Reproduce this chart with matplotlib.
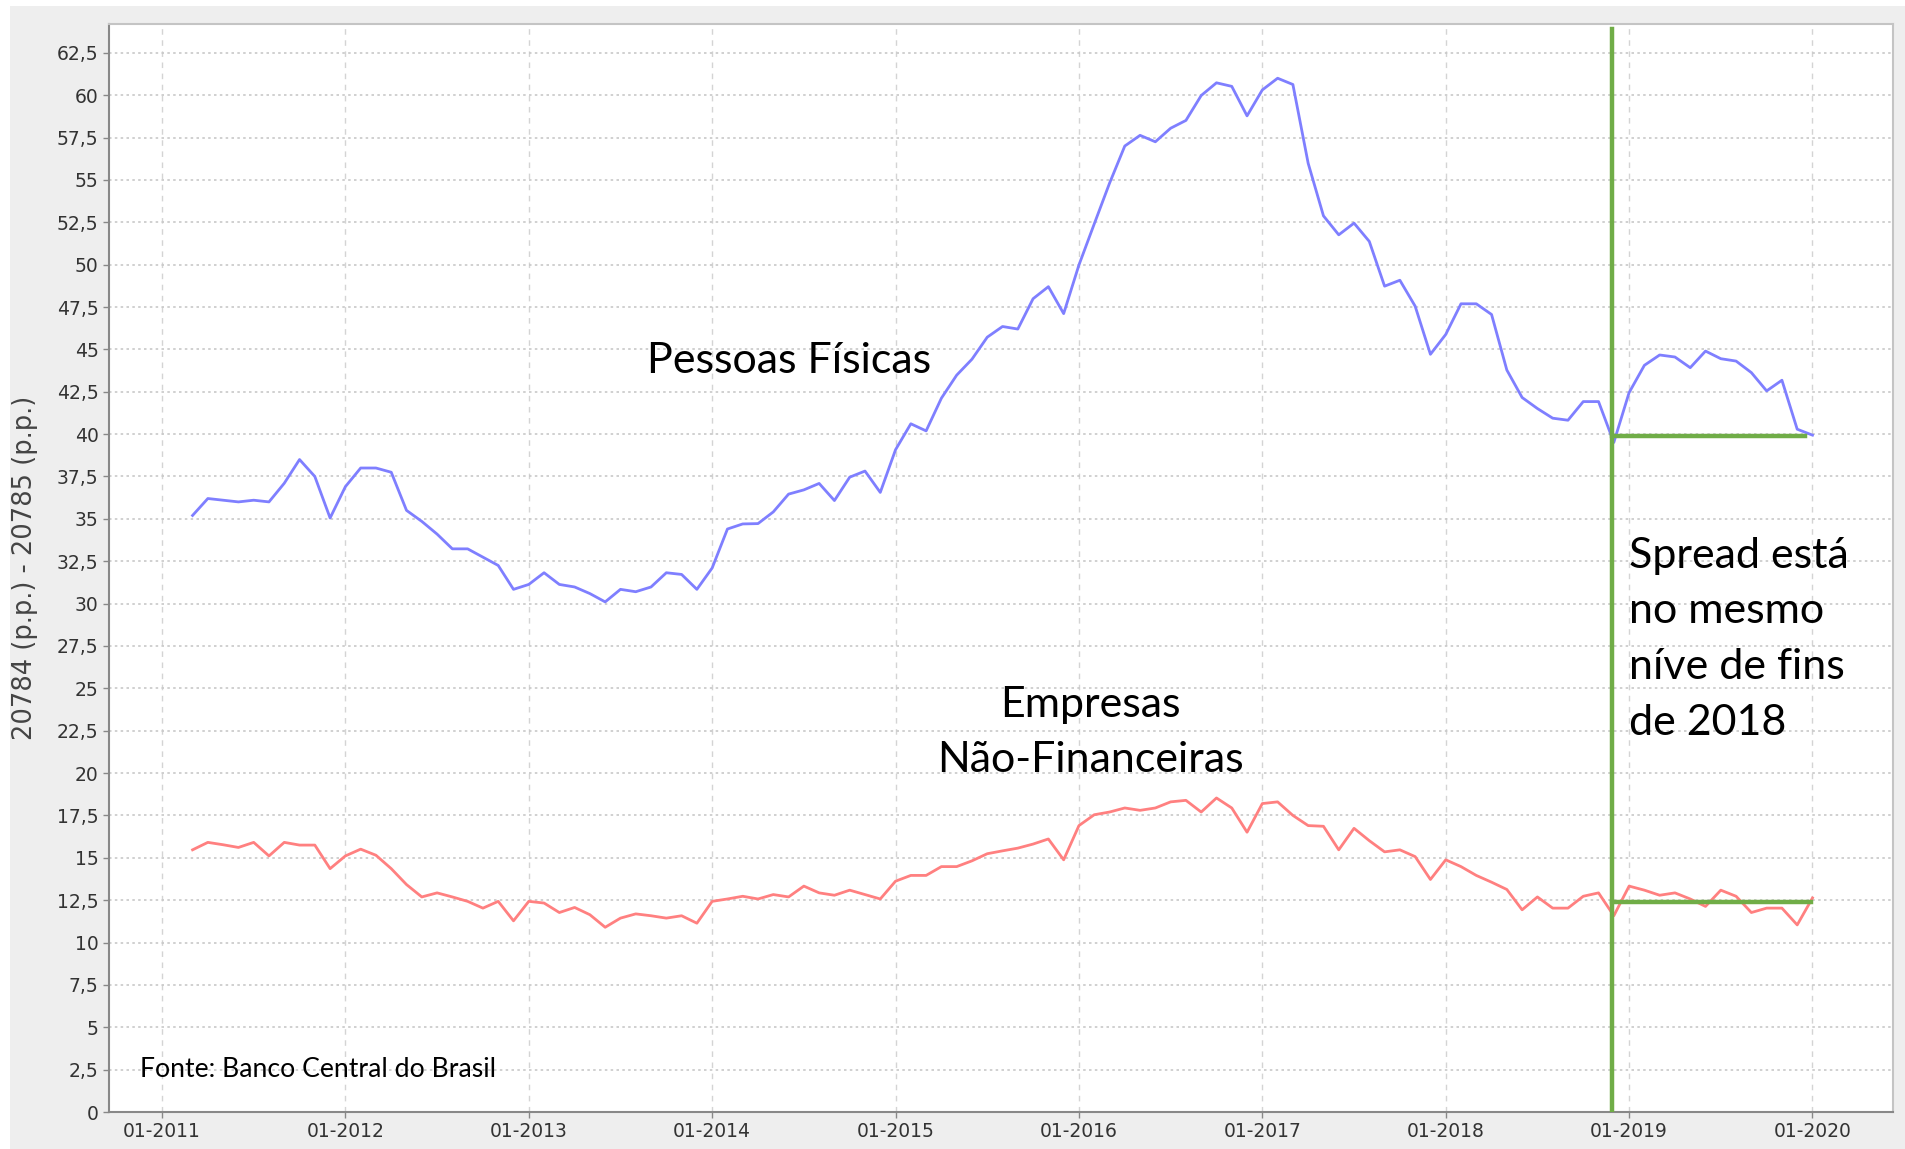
import numpy as np
import matplotlib.pyplot as plt
from matplotlib.patches import Rectangle
from matplotlib.ticker import FuncFormatter

# monthly spreads, Mar-2011 .. Jan-2020 (p.p.)
pessoas_fisicas = [
    35.2, 36.2, 36.1, 36.0, 36.1, 36.0, 37.1, 38.5, 37.5, 35.05,
    36.9, 38.0, 38.0, 37.75, 35.5, 34.85, 34.1, 33.23, 33.23, 32.74, 32.25, 30.84,
    31.13, 31.82, 31.13, 30.98, 30.59, 30.1, 30.84, 30.7, 30.98, 31.82, 31.72, 30.84,
    32.1, 34.4, 34.7, 34.72, 35.41, 36.46, 36.71, 37.09, 36.08, 37.46, 37.82, 36.56,
    39.08, 40.61, 40.19, 42.12, 43.48, 44.42, 45.72, 46.35, 46.2, 47.99, 48.7, 47.11,
    49.98, 52.4, 54.8, 57.0, 57.63, 57.25, 58.05, 58.51, 59.98, 60.73, 60.52, 58.78,
    60.31, 61.0, 60.63, 55.98, 52.88, 51.76, 52.45, 51.37, 48.73, 49.08, 47.55, 44.71,
    45.88, 47.69, 47.69, 47.06, 43.78, 42.16, 41.51, 40.94, 40.82, 41.92, 41.92, 39.51,
    42.45, 44.06, 44.67, 44.55, 43.92, 44.9, 44.45, 44.31, 43.63, 42.55, 43.18, 40.29,
    39.94,
]
empresas = [
    15.47, 15.91, 15.77, 15.61, 15.91, 15.11, 15.91, 15.75, 15.75, 14.36,
    15.11, 15.51, 15.15, 14.36, 13.42, 12.69, 12.93, 12.69, 12.43, 12.03, 12.43, 11.28,
    12.43, 12.33, 11.77, 12.07, 11.64, 10.9, 11.44, 11.69, 11.58, 11.44, 11.58, 11.14,
    12.43, 12.57, 12.73, 12.57, 12.83, 12.69, 13.33, 12.93, 12.79, 13.09, 12.83, 12.57,
    13.62, 13.96, 13.96, 14.48, 14.48, 14.82, 15.24, 15.41, 15.57, 15.81, 16.11, 14.88,
    16.9, 17.54, 17.7, 17.94, 17.8, 17.94, 18.3, 18.39, 17.7, 18.53, 17.94, 16.51,
    18.2, 18.3, 17.5, 16.9, 16.86, 15.47, 16.74, 16.01, 15.35, 15.47, 15.07, 13.72,
    14.88, 14.48, 13.96, 13.56, 13.13, 11.93, 12.69, 12.03, 12.03, 12.73, 12.93, 11.58,
    13.33, 13.09, 12.79, 12.93, 12.57, 12.13, 13.09, 12.73, 11.77, 12.03, 12.03, 11.04,
    12.63,
]
tick_years = list(range(2011, 2021))
ref_date = 2018.905
ref_pf = 39.9
ref_emp = 12.37

# fractional year for each month, starting March 2011
x = 2011 + (2 + np.arange(len(pessoas_fisicas))) / 12

fig = plt.figure(figsize=(19.06, 11.49), dpi=100, facecolor='white')
# grey panel behind the chart
fig.patches.append(Rectangle((10 / 1906, 0), 1 - 10 / 1906, 1 - 6 / 1149,
                             transform=fig.transFigure, facecolor='#eeeeee',
                             edgecolor='none', zorder=-10))
ax = fig.add_axes([109 / 1906, 37 / 1149, (1893 - 109) / 1906, (1112 - 24) / 1149])
ax.set_facecolor('white')

ax.plot(x, pessoas_fisicas, color='#7f7fff', lw=2.0, zorder=3)
ax.plot(x, empresas, color='#ff8080', lw=2.0, zorder=3)

# green reference lines
ax.axvline(ref_date, ymin=0, ymax=0.995, color='#70ad47', lw=3.2, zorder=4)
ax.plot([ref_date, 2019.96], [ref_pf, ref_pf], color='#70ad47', lw=3.2, zorder=4)
ax.plot([ref_date, 2019.99], [ref_emp, ref_emp], color='#70ad47', lw=3.2, zorder=4)

ax.set_xlim(2010.711, 2020.439)
ax.set_ylim(0, 64.2)
ax.set_xticks(tick_years)
ax.set_xticklabels([f'01-{y}' for y in tick_years])
ax.set_yticks(np.arange(0, 63, 2.5))
ax.yaxis.set_major_formatter(FuncFormatter(
    lambda v, p: f'{v:g}'.replace('.', ',')))

ax.grid(axis='y', color='#c8c8c8', linestyle=(0, (1.5, 2)), lw=1.2)
ax.grid(axis='x', color='#d4d4d4', linestyle=(0, (4, 4)), lw=1.0)
ax.set_axisbelow(True)

for side in ['left', 'bottom']:
    ax.spines[side].set_color('#888888')
    ax.spines[side].set_linewidth(1.5)
for side in ['top', 'right']:
    ax.spines[side].set_color('#c4c4c4')
    ax.spines[side].set_linewidth(1.5)
ax.tick_params(axis='both', colors='#888888', labelcolor='#333333',
               labelsize=13.5, length=4, width=1)

ax.set_ylabel('20784 (p.p.) - 20785 (p.p.)', fontsize=18.5, color='#444444')
ax.yaxis.set_label_coords(-71 / 1784, 0.5)

note = dict(family=['Lato', 'DejaVu Sans'], color='black')
ax.text(2013.644, 44.3, 'Pessoas Físicas', fontsize=31, va='center', ha='left', **note)
ax.text(2016.06, 22.4, 'Empresas\nNão-Financeiras', fontsize=31, va='center',
        ha='center', linespacing=1.57, **note)
ax.text(2019.0, 27.9, 'Spread está\nno mesmo\nníve de fins\nde 2018', fontsize=31,
        va='center', ha='left', linespacing=1.57, **note)
ax.text(2010.88, 2.5, 'Fonte: Banco Central do Brasil', fontsize=19.2,
        va='center', ha='left', **note)

fig.savefig('out.png', dpi=100, facecolor=fig.get_facecolor())
